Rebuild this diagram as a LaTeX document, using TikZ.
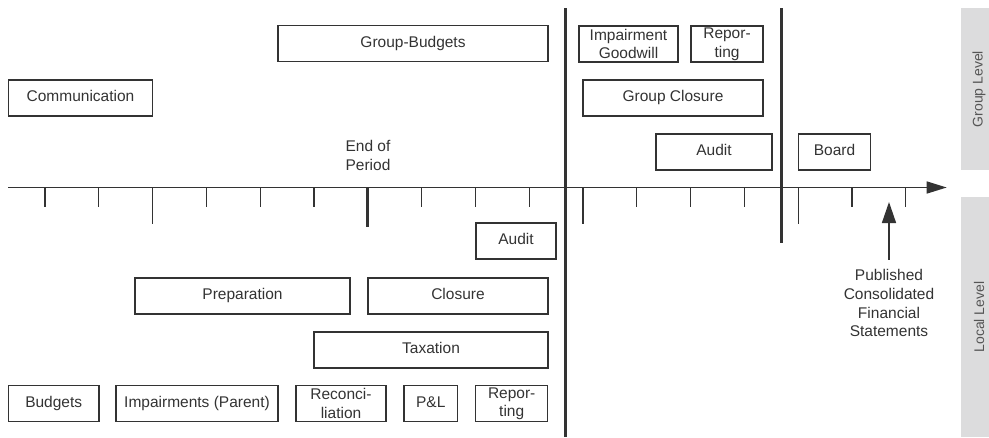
\documentclass[tikz,border=0pt]{standalone}
\usepackage{fontspec}
\setmainfont{Liberation Sans}
\usetikzlibrary{arrows.meta}
\definecolor{ink}{HTML}{333333}
\definecolor{band}{HTML}{DCDCDD}
\definecolor{bandtext}{HTML}{555555}
\begin{document}
\begin{tikzpicture}[x=1pt,y=-1pt,
  every node/.style={font=\fontsize{15.5}{18.8}\selectfont, text=ink},
  task/.style={draw=ink, line width=1.2pt, inner sep=0pt, minimum height=36pt,
    text height=11pt, text depth=3.5pt},
  tasktwo/.style={draw=ink, line width=1.2pt, inner sep=0pt, minimum height=36pt,
    align=center},
  note/.style={align=center, inner sep=0pt},
  axis/.style={draw=ink, line width=1.5pt, -{Triangle[length=20pt,width=12pt]}},
  tick/.style={draw=ink, line width=1.3pt},
  divider/.style={draw=ink, line width=3pt},
  pointer/.style={draw=ink, line width=1.5pt, -{Triangle[length=21pt,width=14pt]}},
  bandlabel/.style={rotate=90, font=\fontsize{14}{16}\selectfont, text=bandtext}
]
\useasboundingbox (0,0) rectangle (989,437);

% level bands on the right
\fill[band] (961,8) rectangle (989,170);
\fill[band] (961,197) rectangle (989,437);
\node[bandlabel] (grouplevel) at (979,89) {Group Level};
\node[bandlabel] (locallevel) at (979,317) {Local Level};

% time axis with ticks
\coordinate (axstart) at (8,187.5);
\coordinate (axend) at (946.7,187.5);
\draw[axis] (axstart) -- (axend);
\foreach \k in {0,1,3,4,5,7,8,9,11,12,13,15,16}
  \draw[tick] ({45+53.8*\k},187.5) -- ++(0,19);
\foreach \k in {2,10,14}
  \draw[tick] ({45+53.8*\k},187.5) -- ++(0,36.5);
\draw[divider] (367.8,187.5) -- (367.8,226.5);

% phase dividers
\draw[divider] (565,8) -- (565,437);
\draw[divider] (781,8) -- (781,243);

% group level activities
\node[task, minimum width=270pt] (gbud) at (413,43.5) {Group-Budgets};
\node[task, minimum width=144.5pt] (comm) at (80.5,98) {Communication};
\node[tasktwo, minimum width=99pt] (impgw) at (628.5,44) {Impairment\\Goodwill};
\node[tasktwo, minimum width=72pt] (grep) at (727,44) {Repor-\\ting};
\node[task, minimum width=180pt] (gclos) at (673,98) {Group Closure};
\node[task, minimum width=116pt] (gaud) at (714,152) {Audit};
\node[task, minimum width=72pt] (board) at (834.5,152) {Board};
\node[note] (eop) at (368,155.5) {End of\\Period};

% local level activities
\node[task, minimum width=80pt] (laud) at (516,241) {Audit};
\node[task, minimum width=215pt] (prep) at (242.5,296) {Preparation};
\node[task, minimum width=180pt] (clos) at (458,296) {Closure};
\node[task, minimum width=234pt] (tax) at (431,350) {Taxation};
\node[task, minimum width=90.7pt] (budg) at (53.7,403.7) {Budgets};
\node[task, minimum width=162pt] (imp) at (197,403.7) {Impairments (Parent)};
\node[tasktwo, minimum width=90pt] (recon) at (341,403.7) {Reconci-\\liation};
\node[task, minimum width=53.7pt] (pl) at (430.8,403.7) {P\&L};
\node[tasktwo, minimum width=72pt] (lrep) at (511.7,403.7) {Repor-\\ting};

% publication marker
\node[note, inner ysep=9.5pt] (pub) at (889,303.2)
  {Published\\Consolidated\\Financial\\Statements};
\coordinate (pubtip) at (889,202);
\draw[pointer] (pub.north) -- (pubtip);
\end{tikzpicture}
\end{document}
